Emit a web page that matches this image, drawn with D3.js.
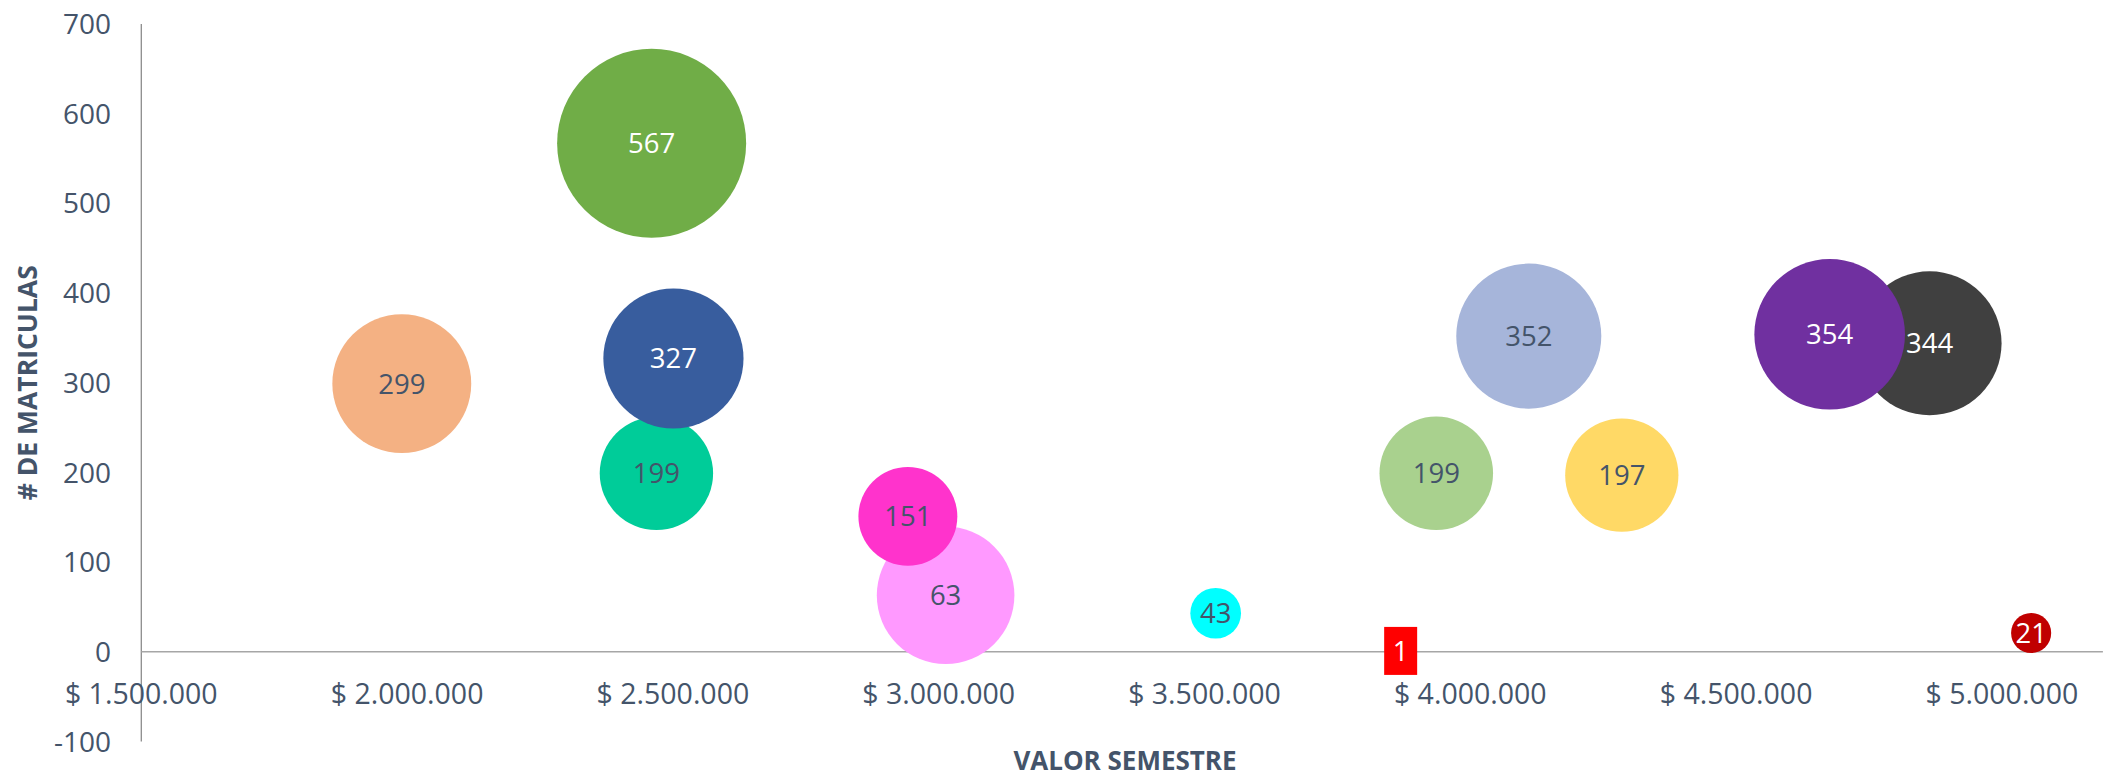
<!DOCTYPE html>
<html lang="es">

<head>
    <meta charset="UTF-8">
    <script src="https://d3js.org/d3.v7.min.js"></script>
    <title>Valor semestre vs matriculas</title>
    <style>
        body {
            margin: 0;
            background: white;
        }

        text {
            font-family: 'Open Sans', sans-serif;
        }
    </style>
</head>

<body>
    <div class="chart"></div>

    <script>
        // datos
        const valorSemestre = [1990000, 2460000, 2469000, 2501000, 3013000, 2942000, 3521000, 3869000, 3936000, 4110000, 4285000, 4864000, 4676000, 5055000];
        const matriculas = [299, 567, 199, 327, 63, 151, 43, 1, 199, 352, 197, 344, 354, 21];
        const tamano = [54, 100, 36, 55, 53, 27.4, 7.2, 0.1, 36.1, 58.9, 35.9, 58, 63.5, 4.5];
        const colores = ["#F4B183", "#70AD47", "#00CC99", "#385D9E", "#FF99FF", "#FF33CC", "#00FFFF", "#FF0000",
            "#A9D18E", "#A6B5DA", "#FFD966", "#404040", "#7030A0", "#C00000"];
        const etiquetaBlanca = [false, true, false, true, false, false, false, true, false, false, false, true, true, true];
        const etiquetaCaja = [false, false, false, false, false, false, false, true, false, false, false, false, false, false];

        const xTicks = [1500000, 2000000, 2500000, 3000000, 3500000, 4000000, 4500000, 5000000];
        const yTicks = [-100, 0, 100, 200, 300, 400, 500, 600, 700];

        const width = 2105, height = 778;
        const textColor = "#44546A";

        const data = matriculas.map((m, i) => ({
            x: valorSemestre[i], y: m, size: tamano[i], color: colores[i],
            white: etiquetaBlanca[i], box: etiquetaCaja[i]
        }));

        const locale = d3.formatLocale({ decimal: ",", thousands: ".", grouping: [3], currency: ["$ ", ""] });
        const fmtMoney = locale.format("$,.0f");

        const svg = d3.select(".chart").append("svg")
            .attr("width", width)
            .attr("height", height);

        const xScale = d3.scaleLinear()
            .domain([1500000, 5190000])
            .range([141.3, 141.3 + 3.69 * 2 * 265.8]);

        const yScale = d3.scaleLinear()
            .domain([-100, 700])
            .range([741.5, 24]);

        const rScale = d3.scaleSqrt()
            .domain([0, 100])
            .range([0, 94.5]);

        // ejes
        svg.append("line")
            .attr("x1", xScale(1500000)).attr("x2", xScale(1500000))
            .attr("y1", yScale(700)).attr("y2", yScale(-100))
            .attr("stroke", "#8C8C8C")
            .attr("stroke-width", 1.3);

        svg.append("line")
            .attr("x1", xScale(1500000)).attr("x2", xScale.range()[1])
            .attr("y1", yScale(0)).attr("y2", yScale(0))
            .attr("stroke", "#A6A6A6")
            .attr("stroke-width", 1.5);

        svg.selectAll(".ytick")
            .data(yTicks)
            .enter()
            .append("text")
            .attr("class", "ytick")
            .attr("x", 111)
            .attr("y", d => yScale(d))
            .attr("dy", "0.36em")
            .attr("text-anchor", "end")
            .attr("font-size", 28)
            .attr("fill", textColor)
            .text(d => d);

        svg.selectAll(".xtick")
            .data(xTicks)
            .enter()
            .append("text")
            .attr("class", "xtick")
            .attr("x", d => xScale(d))
            .attr("y", 694)
            .attr("dy", "0.36em")
            .attr("text-anchor", "middle")
            .attr("font-size", 28.5)
            .attr("fill", textColor)
            .text(d => fmtMoney(d));

        svg.append("text")
            .attr("x", 1125)
            .attr("y", 770)
            .attr("text-anchor", "middle")
            .attr("font-size", 26)
            .attr("font-weight", "bold")
            .attr("fill", textColor)
            .text("VALOR SEMESTRE");

        svg.append("text")
            .attr("transform", `translate(27,${(yScale(700) + yScale(-100)) / 2}) rotate(-90)`)
            .attr("dy", "0.36em")
            .attr("text-anchor", "middle")
            .attr("font-size", 26.5)
            .attr("font-weight", "bold")
            .attr("fill", textColor)
            .text("# DE MATRICULAS");

        // burbujas
        svg.selectAll(".bubble")
            .data(data)
            .enter()
            .append("circle")
            .attr("class", "bubble")
            .attr("cx", d => xScale(d.x))
            .attr("cy", d => yScale(d.y))
            .attr("r", d => rScale(d.size))
            .attr("fill", d => d.color);

        svg.selectAll(".labelbox")
            .data(data.filter(d => d.box))
            .enter()
            .append("rect")
            .attr("class", "labelbox")
            .attr("x", d => xScale(d.x) - 16.5)
            .attr("y", d => yScale(d.y) - 24)
            .attr("width", 33)
            .attr("height", 48)
            .attr("fill", d => d.color);

        svg.selectAll(".label")
            .data(data)
            .enter()
            .append("text")
            .attr("class", "label")
            .attr("x", d => xScale(d.x))
            .attr("y", d => yScale(d.y))
            .attr("dy", "0.36em")
            .attr("text-anchor", "middle")
            .attr("font-size", 27.5)
            .attr("fill", d => d.white ? "white" : textColor)
            .text(d => d.y);
    </script>
</body>

</html>
